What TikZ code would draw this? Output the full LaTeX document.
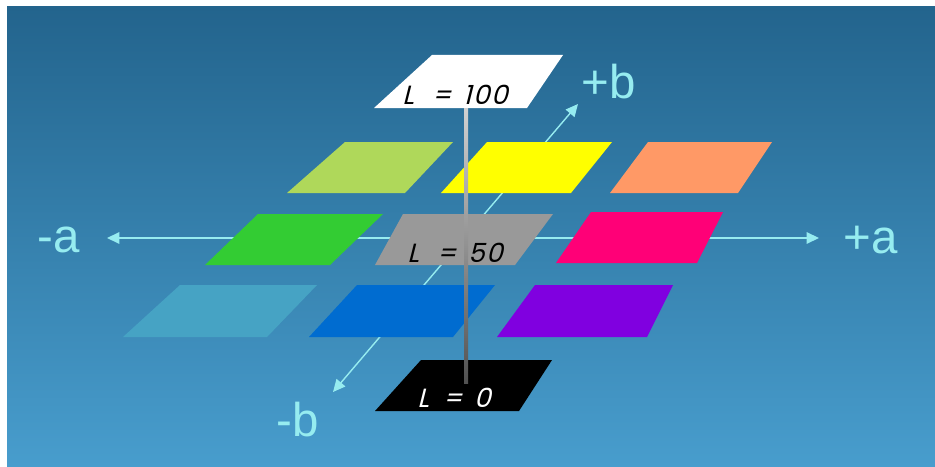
\documentclass[tikz,border=0pt]{standalone}
\usepackage{fontspec}
\setmainfont{Liberation Sans}
\newfontfamily\planefont[FakeSlant=0.25,LetterSpace=6]{Poppins}
\usetikzlibrary{arrows.meta}
\definecolor{bgtop}{RGB}{35,100,141}
\definecolor{bgbottom}{RGB}{72,157,205}
\definecolor{axiscyan}{RGB}{150,236,240}
\definecolor{planelime}{RGB}{175,216,90}
\definecolor{planeyellow}{RGB}{255,255,0}
\definecolor{planeorange}{RGB}{255,153,102}
\definecolor{planegreen}{RGB}{51,204,51}
\definecolor{planegrey}{RGB}{153,153,153}
\definecolor{planemagenta}{RGB}{255,0,119}
\definecolor{planepale}{RGB}{70,163,196}
\definecolor{planeblue}{RGB}{0,108,208}
\definecolor{planepurple}{RGB}{128,0,224}
\tikzset{
  axis/.style={-{Triangle[length=7pt,width=6.5pt]}, line width=0.8pt, draw=axiscyan},
  axislabel/.style={text=axiscyan, font=\fontsize{27}{27}\selectfont},
  planelabel/.style={font=\planefont\fontsize{15}{15}\selectfont, inner sep=0pt}
}

\begin{document}
\begin{tikzpicture}[x=0.02cm,y=-0.02cm]
  % background
  \fill[white] (0,0) rectangle (935,466);
  \shade[top color=bgtop,bottom color=bgbottom] (7,7) rectangle (935,466);

  % a and b axes, behind the planes
  \coordinate (origin) at (464,238);
  \coordinate (aminus) at (107,238);
  \coordinate (aplus) at (819,238);
  \coordinate (bminus) at (333,392);
  \coordinate (bplus) at (578,104);
  \foreach \e in {aminus,aplus,bminus,bplus}
    \draw[axis] (origin) -- (\e);

  \node[axislabel] (labamin) at (59,240) {-a};
  \node[axislabel] (labapl) at (871,240) {+a};
  \node[axislabel] (labbpl) at (609,82) {+b};
  \node[axislabel] (labbmin) at (298,420) {-b};

  % colour planes: colour / top-left / top-right / bottom-right / bottom-left / top / bottom
  \foreach \col/\ta/\tb/\bb/\ba/\ty/\by in {
      planelime/345/453/405/287/142/193,
      planeyellow/487/612/571/441/142/193,
      planeorange/648/772/738/610/142/193,
      planegreen/258/383/330/205/214/265,
      planegrey/403/553/515/375/214/265,
      planemagenta/591/723/697/556/212/263,
      planepale/180/317/267/123/285/337,
      planeblue/357/495/453/309/285/337,
      planepurple/535/673/647/497/285/337,
      white/432/563/527/374/55/108,
      black/421/552/519/375/360/411}
    \fill[\col] (\ta,\ty) -- (\tb,\ty) -- (\bb,\by) -- (\ba,\by) -- cycle;

  % lightness pole
  \coordinate (poletop) at (464,108);
  \coordinate (polebot) at (468,383);
  \shade[top color=black!18,bottom color=black!68] (poletop) rectangle (polebot);

  \node[planelabel] (lhigh) at (455,95) {L\kern0.7em=\kern0.45em100};
  \node[planelabel] (lmid) at (455,253) {L\kern0.7em=\kern0.45em50};
  \node[planelabel,text=white] (llow) at (454,398) {L\kern0.55em=\kern0.45em0};
\end{tikzpicture}
\end{document}
